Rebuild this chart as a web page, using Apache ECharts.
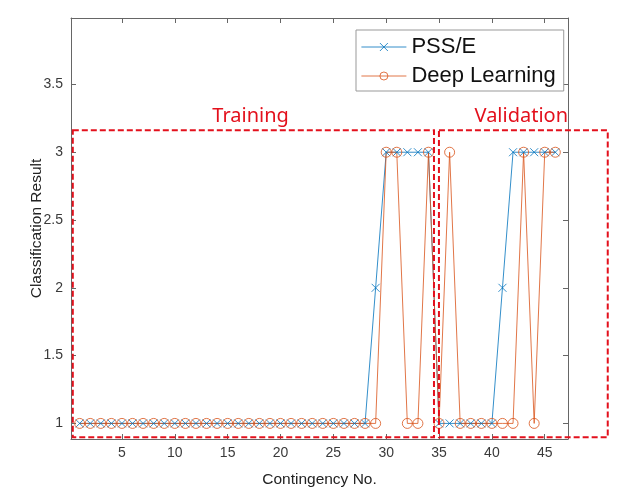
<!DOCTYPE html>
<html><head><meta charset="utf-8">
<script src="https://cdn.jsdelivr.net/npm/echarts@6/dist/echarts.min.js"></script>
<style>html,body{margin:0;padding:0;background:#fff}#c{width:625px;height:493px}</style>
</head><body><div id="c"></div>
<script>
// ---- data ----
const contingency = [1,2,3,4,5,6,7,8,9,10,11,12,13,14,15,16,17,18,19,20,21,22,23,24,25,26,27,28,29,30,31,32,33,34,35,36,37,38,39,40,41,42,43,44,45,46];
const pssE = [1,1,1,1,1,1,1,1,1,1,1,1,1,1,1,1,1,1,1,1,1,1,1,1,1,1,1,1,2,3,3,3,3,3,1,1,1,1,1,1,2,3,3,3,3,3];
const deepLearning = [1,1,1,1,1,1,1,1,1,1,1,1,1,1,1,1,1,1,1,1,1,1,1,1,1,1,1,1,1,3,3,1,1,3,1,3,1,1,1,1,1,1,3,1,3,3];
const seriesNames = ['PSS/E', 'Deep Learning'];
const xTicks = [5,10,15,20,25,30,35,40,45];
const yTicks = [1,1.5,2,2.5,3,3.5];
const xRange = [0.18, 47.2];
const yRange = [0.885, 3.99];
// annotation regions (data units): [x0, y0, x1, y1]
const regionNames = ['Training', 'Validation'];
const regionBoxes = [[0.35, 0.897, 34.52, 3.162], [34.99, 0.897, 50.96, 3.162]];
const regionLabelPos = [[17.17, 3.265], [42.78, 3.265]];

const BLUE = '#0072BD', ORANGE = '#D95319', RED = '#e3101c', AX = '#666';
const chart = echarts.init(document.getElementById('c'), null, {renderer: 'canvas'});

const pair = arr => contingency.map((x, i) => [x, arr[i]]);
const baseX = {
  type: 'value', min: xRange[0], max: xRange[1],
  splitLine: {show: false},
  axisLine: {show: true, onZero: false, lineStyle: {color: AX, width: 1}},
  axisTick: {show: true, inside: true, length: 5, customValues: xTicks, lineStyle: {color: AX}},
  axisLabel: {show: true, customValues: xTicks, color: '#3a3a3a', fontSize: 14, fontFamily: 'Liberation Sans', margin: 7}
};
const baseY = {
  type: 'value', min: yRange[0], max: yRange[1],
  splitLine: {show: false},
  axisLine: {show: true, onZero: false, lineStyle: {color: AX, width: 1}},
  axisTick: {show: true, inside: true, length: 5, customValues: yTicks, lineStyle: {color: AX}},
  axisLabel: {show: true, customValues: yTicks, color: '#3a3a3a', fontSize: 14, fontFamily: 'Liberation Sans', margin: 8}
};

chart.setOption({
  animation: false,
  backgroundColor: '#fff',
  grid: {left: 71, right: 57, top: 18, bottom: 53, containLabel: false},
  xAxis: [
    Object.assign({}, baseX, {position: 'bottom', name: 'Contingency No.', nameLocation: 'middle', nameGap: 33,
      nameMoveOverlap: false,
      nameTextStyle: {fontSize: 15.5, color: '#222', fontFamily: 'Liberation Sans'}}),
    Object.assign({}, baseX, {position: 'top', axisLabel: {show: false}})
  ],
  yAxis: [
    Object.assign({}, baseY, {position: 'left', name: 'Classification Result', nameLocation: 'middle', nameGap: 26,
      nameMoveOverlap: false,
      nameTextStyle: {fontSize: 15.5, color: '#222', fontFamily: 'Liberation Sans'}}),
    Object.assign({}, baseY, {position: 'right', axisLabel: {show: false}})
  ],
  legend: {
    orient: 'vertical', left: 356, top: 30,
    padding: [6, 8, 4, 5], itemGap: 7, itemWidth: 45, itemHeight: 10,
    backgroundColor: '#fff', borderColor: '#999', borderWidth: 1, borderRadius: 0,
    lineStyle: {width: 0.8},
    itemStyle: {borderWidth: 0.8},
    textStyle: {fontSize: 22, color: '#111', fontFamily: 'Liberation Sans'},
    data: seriesNames
  },
  series: [
    {
      name: seriesNames[0], type: 'line', data: pair(pssE),
      symbol: 'path://M0,0L10,10M0,10L10,0', symbolSize: 8,
      itemStyle: {color: 'rgba(0,0,0,0)', borderColor: BLUE, borderWidth: 0.8},
      lineStyle: {color: BLUE, width: 0.8},
      emphasis: {disabled: true}
    },
    {
      name: seriesNames[1], type: 'line', data: pair(deepLearning),
      symbol: 'circle', symbolSize: 10,
      itemStyle: {color: 'rgba(0,0,0,0)', borderColor: ORANGE, borderWidth: 0.8},
      lineStyle: {color: ORANGE, width: 0.8},
      emphasis: {disabled: true}
    }
  ]
});

// annotation boxes and labels, positioned from data units
const gfx = [];
regionBoxes.forEach((b, i) => {
  const p0 = chart.convertToPixel({gridIndex: 0}, [b[0], b[3]]);
  const p1 = chart.convertToPixel({gridIndex: 0}, [b[2], b[1]]);
  gfx.push({type: 'rect', z: 50, shape: {x: p0[0], y: p0[1], width: p1[0] - p0[0], height: p1[1] - p0[1]},
    style: {fill: 'none', stroke: RED, lineWidth: 2, lineDash: [6, 3]}});
  const t = chart.convertToPixel({gridIndex: 0}, regionLabelPos[i]);
  gfx.push({type: 'text', z: 50, x: t[0], y: t[1],
    style: {text: regionNames[i], fill: RED, font: '20px "Noto Sans"', textAlign: 'center', textVerticalAlign: 'middle'}});
});
chart.setOption({graphic: gfx});
</script>
</body></html>
